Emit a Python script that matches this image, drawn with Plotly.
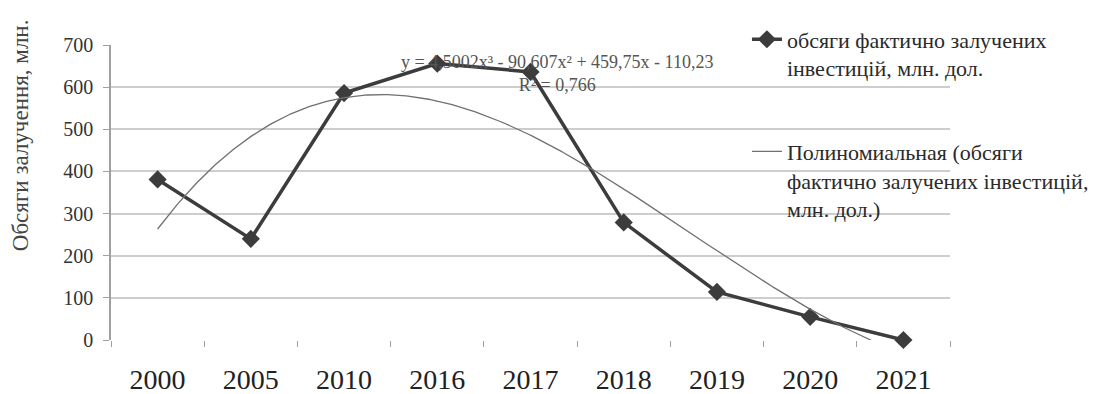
import numpy as np
import plotly.graph_objects as go

# ---- data ----
years = ["2000", "2005", "2010", "2016", "2017", "2018", "2019", "2020", "2021"]
investments = [381, 240, 586, 656, 636, 279, 114, 55, 0]
# polynomial trendline coefficients (x^3, x^2, x, const) as shown on chart
trend_coeffs = [4.5002, -90.607, 459.75, -110.23]
equation_text = "y = 4,5002x³ - 90,607x² + 459,75x - 110,23<br>R² = 0,766"
y_ticks = [0, 100, 200, 300, 400, 500, 600, 700]

series_name = "обсяги фактично залучених<br>інвестицій, млн. дол."
trend_name = "Полиномиальная (обсяги<br>фактично залучених інвестицій,<br>млн. дол.)"
y_title = "Обсяги залучення, млн."

SERIF = "Liberation Serif, Times New Roman, serif"

xi = np.arange(1, len(years) + 1)
xt = np.linspace(1, len(years), 400)
yt = np.polyval(trend_coeffs, xt)

fig = go.Figure()
fig.add_trace(go.Scatter(
    x=xi, y=investments, mode="lines+markers", name=series_name,
    line=dict(color="#3c3c3c", width=3.5),
    marker=dict(symbol="diamond", size=14, color="#3c3c3c"),
    cliponaxis=False, legendgroup="a",
))
fig.add_trace(go.Scatter(
    x=xt, y=yt, mode="lines", name=trend_name,
    line=dict(color="#707070", width=1.3),
    legendgroup="b",
))

fig.update_layout(
    width=1096, height=394,
    margin=dict(l=111, r=146, t=45, b=54, autoexpand=False),
    paper_bgcolor="white", plot_bgcolor="white",
    font=dict(family=SERIF, color="#333333"),
    showlegend=True,
    legend=dict(
        x=0.758, xanchor="left", y=1.09, yanchor="top",
        font=dict(family=SERIF, size=22, color="#2a2a2a"),
        bgcolor="rgba(0,0,0,0)", valign="top",
        tracegroupgap=52, itemwidth=30, maxheight=1000,
    ),
    xaxis=dict(
        range=[0.5, len(years) + 0.5], automargin=False,
        tickmode="array", tickvals=list(xi), ticktext=years,
        ticks="", showgrid=False, zeroline=False, showline=False,
        tickfont=dict(family=SERIF, size=28, color="#222222"),
        ticklabelstandoff=20,
        minor=dict(ticks="outside", tick0=0.5, dtick=1, ticklen=6,
                   tickcolor="#a0a0a0", tickwidth=1.2, showgrid=False),
    ),
    yaxis=dict(
        range=[0, 700], tickmode="array", tickvals=y_ticks, automargin=False,
        ticks="outside", ticklen=6, tickcolor="#a0a0a0", tickwidth=1.2,
        showgrid=True, gridcolor="#cdcdcd", gridwidth=1.5,
        showline=True, linecolor="#a0a0a0", linewidth=1.5,
        zeroline=False,
        tickfont=dict(family=SERIF, size=20, color="#333333"),
        ticklabelstandoff=6,
    ),
    annotations=[
        dict(text=equation_text, xref="paper", yref="paper",
             x=0.531, y=0.905, xanchor="center", yanchor="middle",
             showarrow=False, align="center",
             font=dict(family=SERIF, size=18, color="#555555")),
        dict(text=y_title, xref="paper", yref="paper",
             x=-0.107, y=0.295, xanchor="center", yanchor="bottom",
             textangle=-90, showarrow=False,
             font=dict(family=SERIF, size=23, color="#444444")),
    ],
)

fig.write_html("out.html")
